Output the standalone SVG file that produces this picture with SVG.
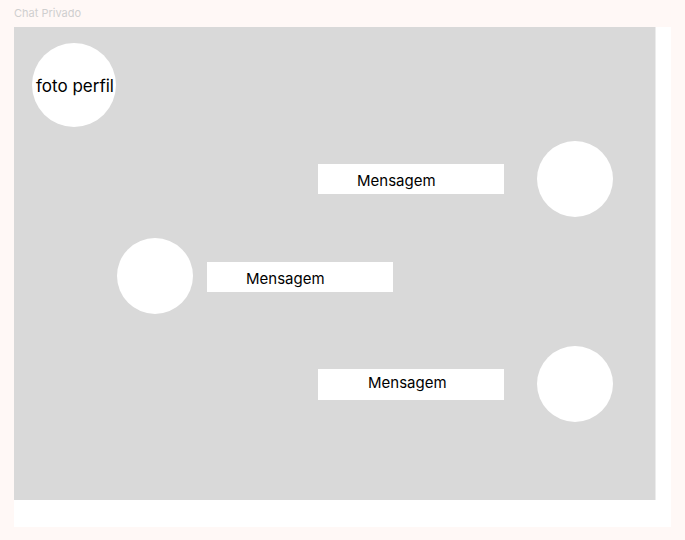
<svg xmlns="http://www.w3.org/2000/svg" width="685" height="540" viewBox="0 0 685 540">
<style>
.bg{fill:#fff8f6}
.frame{fill:#ffffff}
.panel{fill:#d9d9d9}
.avatar{fill:#ffffff}
.box{fill:#ffffff}
.t{font-family:Inter,"Liberation Sans",sans-serif;fill:#000000}
.msg{font-size:15px}
.title{font-family:Inter,"Liberation Sans",sans-serif;font-size:11px;fill:#cfcfcf}
</style>
<rect class="bg" x="0" y="0" width="685" height="540"/>
<text class="title" x="14" y="17">Chat Privado</text>
<rect class="frame" x="14" y="27" width="657" height="500"/>
<rect class="panel" x="14" y="27" width="641.5" height="473"/>
<g id="profile">
<circle class="avatar" cx="74" cy="85" r="42"/>
<text class="t" x="75" y="92" font-size="17" text-anchor="middle">foto perfil</text>
</g>
<g id="msg1">
<rect class="box" x="318" y="164" width="186" height="30"/>
<text class="t msg" x="357" y="186">Mensagem</text>
</g>
<g id="avatar1"><circle class="avatar" cx="575" cy="179" r="38"/></g>
<g id="avatar2"><circle class="avatar" cx="155" cy="276" r="38"/></g>
<g id="msg2">
<rect class="box" x="207" y="262" width="186" height="30"/>
<text class="t msg" x="246" y="284">Mensagem</text>
</g>
<g id="msg3">
<rect class="box" x="318" y="369" width="186" height="31"/>
<text class="t msg" x="368" y="388">Mensagem</text>
</g>
<g id="avatar3"><circle class="avatar" cx="575" cy="384" r="38"/></g>
<g id="connectors"></g>
</svg>
